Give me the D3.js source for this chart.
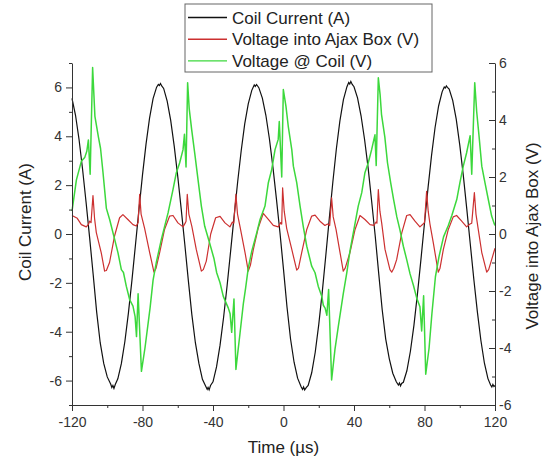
<!DOCTYPE html>
<html>
<head>
<meta charset="utf-8">
<script src="https://cdn.jsdelivr.net/npm/d3@7"></script>
<style>
  body { margin: 0; background: #fff; }
  svg { display: block; }
  .axis path, .axis line { stroke: #333; }
  .axis text { font-family: "Liberation Sans", Arial, sans-serif; font-size: 14px; fill: #333; }
  .title { font-family: "Liberation Sans", Arial, sans-serif; font-size: 17px; fill: #222; }
</style>
</head>
<body>
<script>
// Coil current (A), left axis  [time µs, value]
var coilCurrent = [
  [-120, 5.55], [-118, 4.86], [-116, 3.87], [-114, 2.65], [-112, 1.29], [-110, -0.15],
  [-108, -1.65], [-106, -3.2], [-104, -4.45], [-102, -5.3], [-100, -5.85], [-98, -6.15],
  [-97.4, -6.28], [-96.8, -6.2], [-96.2, -6.32], [-95.4, -6.15], [-94, -5.93], [-92, -5.31],
  [-90, -4.40], [-88, -3.24], [-86, -1.90], [-84, -0.45], [-82, 1.01], [-80, 2.42],
  [-78, 3.68], [-76, 4.74], [-74, 5.54], [-72, 6.01], [-71, 6.12], [-70.4, 6.08],
  [-69.8, 6.16], [-69, 6.05], [-68, 5.96], [-66, 5.44], [-64, 4.65],
  [-62, 3.60], [-60, 2.36], [-58, 1.00], [-56, -0.42], [-54, -1.9], [-52, -3.3],
  [-50, -4.45], [-48, -5.3], [-46, -5.95], [-44, -6.25], [-43.3, -6.36], [-42.8, -6.28],
  [-42.2, -6.38], [-41.4, -6.2], [-40, -6.05], [-38, -5.44], [-36, -4.55], [-34, -3.42],
  [-32, -2.12], [-30, -0.70], [-28, 0.74], [-26, 2.14], [-24, 3.41], [-22, 4.51],
  [-20, 5.33], [-18, 5.88], [-16.6, 6.1], [-16, 6.04], [-15.3, 6.12], [-14, 5.99],
  [-12, 5.56], [-10, 4.86], [-8, 3.90], [-6, 2.74],
  [-4, 1.43], [-2, 0.05], [0, -1.45], [2, -3.0], [4, -4.3], [6, -5.25], [8, -5.9],
  [10, -6.25], [10.8, -6.36], [11.4, -6.26], [12, -6.38], [13, -6.28], [14, -6.20],
  [16, -5.68], [18, -4.84], [20, -3.71],
  [22, -2.37], [24, -0.88], [26, 0.65], [28, 2.13], [30, 3.49], [32, 4.63],
  [34, 5.50], [36, 6.03], [37, 6.2], [37.6, 6.14], [38.2, 6.24], [39, 6.12], [40, 6.03],
  [42, 5.57], [44, 4.84],
  [46, 3.87], [48, 2.72], [50, 1.35], [52, -0.05], [54, -1.6], [56, -3.1],
  [58, -4.3], [60, -5.1], [62, -5.7], [64, -6.05], [65.2, -6.18], [65.8, -6.1],
  [66.4, -6.22], [67, -6.12], [68, -6.07],
  [70, -5.60], [72, -4.80], [74, -3.74], [76, -2.45], [78, -1.03], [80, 0.45],
  [82, 1.89], [84, 3.22], [86, 4.36], [88, 5.24], [90, 5.82], [91.2, 6.02],
  [91.8, 5.98], [92.4, 6.06], [93, 6.0], [94, 5.93], [96, 5.47], [98, 4.70],
  [100, 3.65], [102, 2.41], [104, 1.02],
  [106, -0.43], [108, -1.86], [110, -3.19], [112, -4.36], [114, -5.29], [116, -5.92],
  [117.5, -6.18], [118.2, -6.26], [118.8, -6.16], [119.4, -6.24], [120, -6.2]
];

// Voltage into Ajax box (V), right axis
var ajaxVoltage = [
  [-120, 0.65], [-117, 0.55], [-114.7, 0.33], [-111.9, 0.25], [-110.6, 0.35], [-110, 0.45],
  [-109.2, 0.4], [-108.1, 1.35], [-107.2, 0.55], [-106.2, 0.05], [-103.4, -0.66], [-101.5, -1.3],
  [-100.5, -1.28], [-98.7, -1.0], [-95.9, -0.08], [-93, 0.57], [-91.1, 0.68], [-88.3, 0.51],
  [-85.4, 0.33], [-83.5, 0.28], [-82.5, 0.4], [-81.6, 1.39], [-80.8, 0.7], [-78.8, 0.2],
  [-75.9, -0.66], [-73.5, -1.34], [-72.3, -1.2], [-70.3, -0.66], [-67.5, 0.16], [-64.6, 0.63],
  [-62.7, 0.65], [-59.9, 0.39], [-57, 0.25], [-55.8, 0.38], [-55.3, 0.45], [-54.6, 1.39],
  [-53.7, 0.7], [-52, 0.27], [-49.5, -0.54], [-46.6, -1.3], [-45.5, -1.25], [-43.8, -0.95],
  [-41.3, 0.0], [-38.5, 0.57], [-36, 0.62], [-33.2, 0.39], [-30.4, 0.25], [-29, 0.42],
  [-28.2, 0.38], [-27.0, 1.39], [-26.1, 0.7], [-24.7, 0.27], [-21.8, -0.66], [-20.0, -1.3],
  [-18.8, -1.1], [-17.1, -0.54], [-14.3, 0.22], [-11.5, 0.72], [-8.6, 0.51], [-5.8, 0.3],
  [-3.0, 0.25], [-1.6, 0.4], [-1.0, 0.35], [-0.5, 1.62], [0.4, 0.8], [1.8, 0.2],
  [4.7, -0.54], [7.5, -1.27], [8.5, -1.2], [10.3, -0.66], [13.2, 0.16], [16.0, 0.63],
  [17.9, 0.66], [20.7, 0.45], [23.5, 0.3], [25, 0.35], [26.2, 0.3], [27.3, 1.27],
  [28.2, 0.6], [29.8, 0.16], [32.1, -0.66], [33.9, -1.3], [35, -1.2], [37.7, -0.65],
  [40.6, 0.16], [43.4, 0.65], [46.2, 0.51], [49.1, 0.33], [51.3, 0.3], [52.5, 0.42],
  [53.0, 0.38], [53.8, 1.56], [54.7, 0.8], [55.7, 0.39], [57.6, -0.54], [60.4, -1.25],
  [61.4, -1.34], [62.6, -1.2], [64.2, -0.9], [67.1, 0.04], [69.9, 0.65], [71.8, 0.68],
  [74.6, 0.45], [77.4, 0.25], [79.2, 0.35], [80.0, 0.4], [81.2, 1.5], [82.1, 0.8],
  [83.1, 0.35], [85.0, -0.31], [87.8, -1.34], [88.8, -1.2], [90.7, -0.54], [93.5, 0.16],
  [96.3, 0.6], [98.2, 0.65], [101.1, 0.45], [103.9, 0.25], [105.8, 0.35], [106.8, 0.38],
  [108.3, 1.45], [109.2, 0.7], [110.5, 0.16], [112.5, -0.65], [115.3, -1.34], [116.4, -1.25],
  [118.1, -0.9], [120, -0.5]
];

// Voltage at coil (V), right axis
var coilVoltage = [
  [-120, 0.8], [-117.5, 1.9], [-114.7, 2.55], [-112.8, 2.68], [-111.6, 2.9], [-110.7, 3.3],
  [-109.7, 2.1], [-108.3, 5.84], [-107.0, 4.13], [-105.0, 3.4], [-103.8, 3.0], [-102.4, 2.15],
  [-100.5, 0.9], [-98.6, 0.5], [-95.8, -0.19], [-93.9, -0.66], [-92, -1.25], [-90.8, -1.35],
  [-89.2, -1.83], [-87.3, -2.3], [-85.4, -2.53], [-84.2, -2.9], [-83.4, -3.6], [-82.5, -2.1],
  [-80.6, -4.82], [-78.6, -4.0], [-75.7, -2.59], [-74, -1.62], [-72.2, -1.01], [-69.3, -0.19],
  [-65.5, 0.74], [-62.7, 1.56], [-60.8, 2.15], [-58.9, 2.5], [-57, 2.96], [-56.2, 3.5],
  [-55.3, 2.35], [-54.4, 5.31], [-53.5, 4.4], [-52.1, 3.66], [-50.3, 2.8], [-48.5, 1.91],
  [-46.6, 0.98], [-44.7, 0.27], [-42, -0.3], [-39.5, -0.85], [-37.9, -1.36], [-36, -1.71],
  [-34.2, -2.18], [-33.2, -2.33], [-31.3, -2.6], [-30.3, -2.8], [-29.4, -3.45], [-28.1, -2.28],
  [-27.0, -4.75], [-26, -4.2], [-24.7, -3.5], [-22.8, -2.45], [-21.5, -1.9], [-20, -1.2],
  [-18, -0.6], [-15.2, 0.04], [-13.3, 0.51], [-10.5, 0.98], [-8.6, 1.8], [-6.7, 2.26],
  [-4.8, 2.96], [-3.0, 3.32], [-2.4, 3.95], [-1.0, 2.0], [-0.1, 5.07], [1.4, 4.48],
  [2.7, 3.78], [4.7, 2.96], [5.6, 2.38], [7.5, 1.8], [9.4, 0.98], [11.2, 0.27],
  [13.2, -0.43], [16, -1.13], [17.9, -1.36], [19.7, -1.83], [21.7, -2.18], [22.6, -2.5],
  [23.6, -2.6], [24.6, -2.85], [25.6, -1.95], [27.3, -5.12], [29.2, -4.05], [31.1, -3.24],
  [33.9, -2.1], [35.9, -1.36], [37.7, -0.6], [39.6, 0.04], [42.4, 0.98], [44.4, 1.45],
  [46.2, 2.15], [48.1, 2.5], [50, 2.96], [51.3, 3.32], [51.9, 3.48], [52.6, 2.4],
  [53.8, 5.48], [54.8, 4.9], [55.6, 4.2], [57.5, 3.4], [59, 2.5], [60.8, 1.8],
  [62.5, 1.2], [64.3, 0.6], [66, 0.16], [68, -0.43], [69.9, -0.9], [71.8, -1.4],
  [73.7, -1.8], [75.6, -2.25], [77.4, -2.55], [78.4, -3.4], [79.5, -2.17], [80.7, -4.92],
  [82.6, -4.0], [84.2, -2.8], [86.2, -1.5], [88.2, -0.8], [90.8, -0.1], [93.5, 0.3],
  [95.5, 0.65], [98.3, 1.21], [100.1, 1.8], [102, 2.38], [103.9, 2.85], [105.4, 3.3],
  [105.9, 3.45], [106.8, 2.1], [108.5, 5.31], [109.6, 4.3], [111, 3.4], [112.5, 2.38],
  [114.3, 1.8], [116.2, 1.21], [118.1, 0.63], [119.4, 0.39], [120, 0.3]
];

// tick values
var timeTicks = [-120, -80, -40, 0, 40, 80, 120];
var timeMinor = [-100, -60, -20, 20, 60, 100];
var currentTicks = [-6, -4, -2, 0, 2, 4, 6];
var currentMinor = [-7, -5, -3, -1, 1, 3, 5, 7];
var voltTicks = [-6, -4, -2, 0, 2, 4, 6];
var voltMinor = [-5, -3, -1, 1, 3, 5];

var legendItems = [
  {name: "Coil Current (A)", color: "#111111"},
  {name: "Voltage into Ajax Box (V)", color: "#cc3030"},
  {name: "Voltage @ Coil (V)", color: "#3cd83c"}
];

var W = 542, H = 462;
var margin = {top: 63, right: 47, bottom: 57, left: 72},
    width = W - margin.left - margin.right,
    height = H - margin.top - margin.bottom;

var x = d3.scaleLinear().domain([-120, 120]).range([0, width]);
var yL = d3.scaleLinear().domain([-7, 7]).range([height, 0]);
var yR = d3.scaleLinear().domain([-6, 6]).range([height, 0]);

var svg = d3.select("body").append("svg")
    .attr("width", W)
    .attr("height", H);

svg.append("rect").attr("width", W).attr("height", H).attr("fill", "#fff");

var g = svg.append("g")
    .attr("transform", "translate(" + margin.left + "," + margin.top + ")");

// lines
var lineL = d3.line().x(function(d) { return x(d[0]); }).y(function(d) { return yL(d[1]); });
var lineR = d3.line().x(function(d) { return x(d[0]); }).y(function(d) { return yR(d[1]); });

g.append("path").attr("d", lineL(coilCurrent))
    .attr("fill", "none").attr("stroke", legendItems[0].color).attr("stroke-width", 1.2);
g.append("path").attr("d", lineR(ajaxVoltage))
    .attr("fill", "none").attr("stroke", legendItems[1].color).attr("stroke-width", 1.2)
    .attr("stroke-linejoin", "round");
g.append("path").attr("d", lineR(coilVoltage))
    .attr("fill", "none").attr("stroke", legendItems[2].color).attr("stroke-width", 1.5)
    .attr("stroke-linejoin", "round");

// axes (major + minor)
g.append("g").attr("class", "axis")
    .attr("transform", "translate(0," + height + ")")
    .call(d3.axisBottom(x).tickValues(timeTicks).tickSize(6).tickSizeOuter(0).tickPadding(6));
g.append("g").attr("class", "axis")
    .attr("transform", "translate(0," + height + ")")
    .call(d3.axisBottom(x).tickValues(timeMinor).tickSize(3).tickFormat(""))
    .select(".domain").remove();

g.append("g").attr("class", "axis")
    .call(d3.axisLeft(yL).tickValues(currentTicks).tickSize(6).tickSizeOuter(0).tickPadding(4));
g.append("g").attr("class", "axis")
    .call(d3.axisLeft(yL).tickValues(currentMinor).tickSize(3).tickFormat(""))
    .select(".domain").remove();

g.append("g").attr("class", "axis")
    .attr("transform", "translate(" + width + ",0)")
    .call(d3.axisRight(yR).tickValues(voltTicks).tickSize(-6).tickSizeOuter(0).tickPadding(4));
g.append("g").attr("class", "axis")
    .attr("transform", "translate(" + width + ",0)")
    .call(d3.axisRight(yR).tickValues(voltMinor).tickSize(-3).tickFormat(""))
    .select(".domain").remove();

// plain hyphen for negative labels, as in the reference
svg.selectAll(".axis text").text(function() { return this.textContent.replace("\u2212", "-"); });

// axis titles
svg.append("text").attr("class", "title")
    .attr("x", margin.left + width / 2).attr("y", 453)
    .attr("text-anchor", "middle")
    .text("Time (\u00b5s)");

svg.append("text").attr("class", "title")
    .attr("transform", "translate(31,222) rotate(-90)")
    .attr("text-anchor", "middle")
    .text("Coil Current (A)");

svg.append("text").attr("class", "title")
    .attr("transform", "translate(538,236) rotate(-90)")
    .attr("text-anchor", "middle")
    .text("Voltage into Ajax Box (V)");

// legend
var legend = svg.append("g").attr("transform", "translate(185,4)");
legend.append("rect")
    .attr("width", 247).attr("height", 68)
    .attr("fill", "#fff").attr("stroke", "#666").attr("stroke-width", 1);

var rows = legend.selectAll(".row").data(legendItems).enter().append("g")
    .attr("transform", function(d, i) { return "translate(0," + (13.5 + i * 21.7) + ")"; });
rows.append("line")
    .attr("x1", 3).attr("x2", 42).attr("y1", 0).attr("y2", 0)
    .attr("stroke", function(d) { return d.color; }).attr("stroke-width", 1.4);
rows.append("text").attr("class", "title")
    .attr("x", 47).attr("y", 6)
    .text(function(d) { return d.name; });
</script>
</body>
</html>
